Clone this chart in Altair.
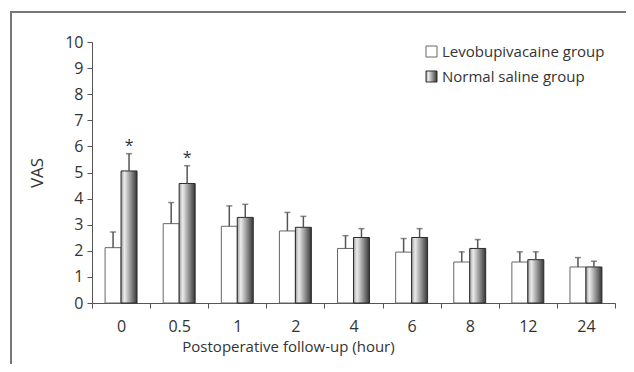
import altair as alt
import pandas as pd

hours = ["0", "0.5", "1", "2", "4", "6", "8", "12", "24"]
levo_mean = [2.12, 3.04, 2.94, 2.76, 2.09, 1.95, 1.57, 1.57, 1.38]
levo_sd = [0.60, 0.81, 0.78, 0.71, 0.49, 0.52, 0.39, 0.39, 0.36]
saline_mean = [5.06, 4.58, 3.28, 2.90, 2.51, 2.51, 2.09, 1.66, 1.38]
saline_sd = [0.66, 0.68, 0.50, 0.42, 0.34, 0.34, 0.34, 0.30, 0.22]
saline_sig = ["*", "*", "", "", "", "", "", "", ""]
groups = ["Levobupivacaine group", "Normal saline group"]
y_ticks = [0, 1, 2, 3, 4, 5, 6, 7, 8, 9, 10]

rows = []
for i, h in enumerate(hours):
    rows.append({"hour": h, "group": groups[0], "mean": levo_mean[i],
                 "top": levo_mean[i] + levo_sd[i], "sig": ""})
    rows.append({"hour": h, "group": groups[1], "mean": saline_mean[i],
                 "top": saline_mean[i] + saline_sd[i], "sig": saline_sig[i]})
df = pd.DataFrame(rows)

FONT = "Open Sans"
TXT = "#333333"

grad = alt.Gradient(
    gradient="linear",
    stops=[alt.GradientStop(color="#a0a0a0", offset=0),
           alt.GradientStop(color="#ebebeb", offset=0.22),
           alt.GradientStop(color="#363636", offset=1)],
    x1=0, x2=1, y1=0, y2=0)

W, H = 523, 261

xenc = alt.X("hour:N", sort=hours,
             scale=alt.Scale(paddingInner=0, paddingOuter=0),
             axis=alt.Axis(title="Postoperative follow-up (hour)", labelAngle=0,
                           tickBand="extent", tickSize=5, labelPadding=10,
                           titlePadding=5, titleFontSize=15,
                           titleX=196, titleAlign="center",
                           domainColor="#555", tickColor="#555"))
xoff = alt.XOffset("group:N", sort=groups,
                   scale=alt.Scale(paddingInner=0, paddingOuter=0.82))
yscale = alt.Scale(domain=[0, 10], nice=False)
yaxis = alt.Axis(title="VAS", values=y_ticks, grid=False, labelOverlap=False,
                 tickSize=5, labelPadding=4, titlePadding=18, titleFontSize=17,
                 domainColor="#555", tickColor="#555")

def Y(field):
    return alt.Y(field, type="quantitative", scale=yscale, axis=yaxis, title="VAS")

base = alt.Chart(df)

err = base.mark_rule(color="#555", strokeWidth=1.5).encode(
    x=xenc, xOffset=xoff, y=Y("mean"), y2="top:Q")
cap = base.mark_tick(color="#555", thickness=1.5, size=6, orient="horizontal").encode(
    x=xenc, xOffset=xoff, y=Y("top"))

bars_levo = base.transform_filter(alt.datum.group == groups[0]).mark_bar(
    fill="white", stroke="#666", strokeWidth=1).encode(x=xenc, xOffset=xoff, y=Y("mean"))
bars_sal = base.transform_filter(alt.datum.group == groups[1]).mark_bar(
    fill=grad, stroke="#2a2a2a", strokeWidth=1).encode(x=xenc, xOffset=xoff, y=Y("mean"))

stars = base.transform_filter(alt.datum.sig != "").mark_text(
    font=FONT, fontSize=16, color=TXT, baseline="middle", dy=-8).encode(
    x=xenc, xOffset=xoff, y=Y("top"), text="sig:N")

one = alt.Data(values=[{}])
frame = alt.Chart(one).mark_rect(fill=None, stroke="#777", strokeWidth=2).encode(
    x=alt.value(-81), x2=alt.value(560), y=alt.value(-30), y2=alt.value(350))

leg_df = pd.DataFrame({"group": groups, "i": [0, 1]})
leg_box1 = alt.Chart(leg_df).transform_filter(alt.datum.i == 0).mark_rect(
    fill="white", stroke="#666", strokeWidth=1).encode(
    x=alt.value(334), x2=alt.value(345), y=alt.value(4), y2=alt.value(15))
leg_box2 = alt.Chart(leg_df).transform_filter(alt.datum.i == 1).mark_rect(
    fill=grad, stroke="#2a2a2a", strokeWidth=1).encode(
    x=alt.value(334), x2=alt.value(345), y=alt.value(29), y2=alt.value(40))
leg_t1 = alt.Chart(leg_df).transform_filter(alt.datum.i == 0).mark_text(
    font=FONT, fontSize=15, color=TXT, align="left", baseline="middle").encode(
    x=alt.value(350), y=alt.value(9.5), text="group:N")
leg_t2 = alt.Chart(leg_df).transform_filter(alt.datum.i == 1).mark_text(
    font=FONT, fontSize=15, color=TXT, align="left", baseline="middle").encode(
    x=alt.value(350), y=alt.value(35), text="group:N")

chart = alt.layer(
    frame, bars_levo, bars_sal, err, cap, stars,
    leg_box1, leg_box2, leg_t1, leg_t2
).properties(
    width=W, height=H,
    autosize=alt.AutoSizeParams(type="none"),
    padding={"left": 84, "top": 34, "right": 11, "bottom": 61},
    background="white",
).configure_view(stroke=None).configure_axis(
    labelFont=FONT, titleFont=FONT, labelFontSize=16, titleFontSize=16,
    labelColor=TXT, titleColor=TXT, titleFontWeight="normal",
)

chart.save("out.html", embed_options={"renderer": "svg", "actions": False})
